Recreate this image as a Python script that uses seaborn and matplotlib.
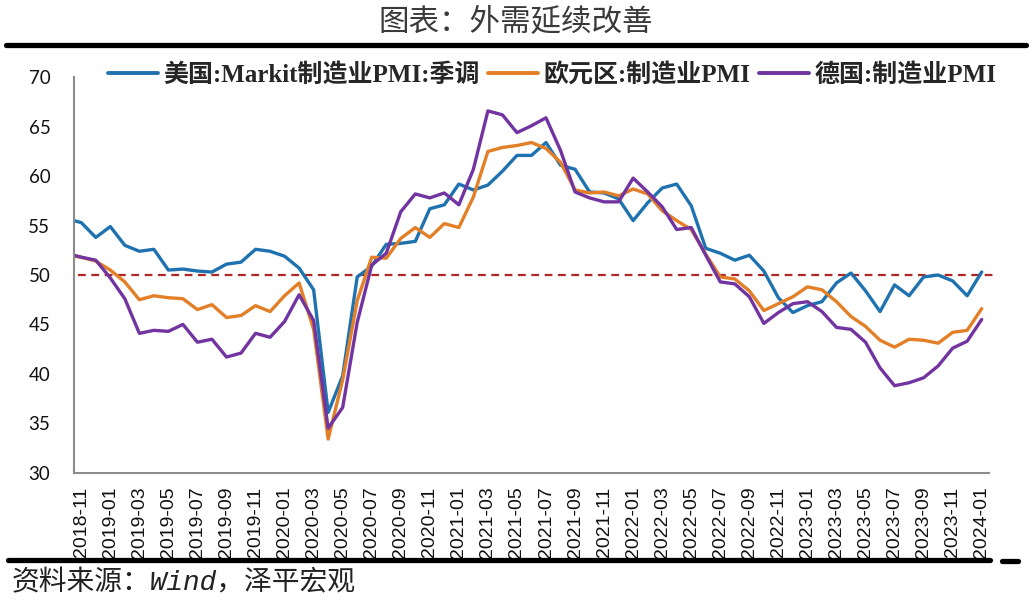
import matplotlib
matplotlib.use('Agg')
import matplotlib.pyplot as plt
from matplotlib.lines import Line2D
import numpy as np
import pandas as pd
import seaborn as sns

# 月度数据 2018-10 ~ 2024-01（2018-10 只用于左端延伸，被坐标轴裁掉）
months = pd.period_range('2018-10', '2024-01', freq='M').strftime('%Y-%m').tolist()

us_pmi = [55.7, 55.3, 53.8,
          54.9, 53.0, 52.4, 52.6, 50.5, 50.6, 50.4, 50.3, 51.1, 51.3, 52.6, 52.4,
          51.9, 50.7, 48.5, 36.1, 39.8, 49.8, 50.9, 53.1, 53.2, 53.4, 56.7, 57.1,
          59.2, 58.6, 59.1, 60.5, 62.1, 62.1, 63.4, 61.1, 60.7, 58.4, 58.3, 57.7,
          55.5, 57.3, 58.8, 59.2, 57.0, 52.7, 52.2, 51.5, 52.0, 50.4, 47.7, 46.2,
          46.9, 47.3, 49.2, 50.2, 48.4, 46.3, 49.0, 47.9, 49.8, 50.0, 49.4, 47.9,
          50.3]
ez_pmi = [52.0, 51.8, 51.4,
          50.5, 49.3, 47.5, 47.9, 47.7, 47.6, 46.5, 47.0, 45.7, 45.9, 46.9, 46.3,
          47.9, 49.2, 44.5, 33.4, 39.4, 47.4, 51.8, 51.7, 53.7, 54.8, 53.8, 55.2,
          54.8, 57.9, 62.5, 62.9, 63.1, 63.4, 62.8, 61.4, 58.6, 58.3, 58.4, 58.0,
          58.7, 58.2, 56.5, 55.5, 54.6, 52.1, 49.8, 49.6, 48.4, 46.4, 47.1, 47.8,
          48.8, 48.5, 47.3, 45.8, 44.8, 43.4, 42.7, 43.5, 43.4, 43.1, 44.2, 44.4,
          46.6]
de_pmi = [52.2, 51.8, 51.5,
          49.7, 47.6, 44.1, 44.4, 44.3, 45.0, 43.2, 43.5, 41.7, 42.1, 44.1, 43.7,
          45.3, 48.0, 45.4, 34.5, 36.6, 45.2, 51.0, 52.2, 56.4, 58.2, 57.8, 58.3,
          57.1, 60.7, 66.6, 66.2, 64.4, 65.1, 65.9, 62.6, 58.4, 57.8, 57.4, 57.4,
          59.8, 58.4, 56.9, 54.6, 54.8, 52.0, 49.3, 49.1, 47.8, 45.1, 46.2, 47.1,
          47.3, 46.3, 44.7, 44.5, 43.2, 40.6, 38.8, 39.1, 39.6, 40.8, 42.6, 43.3,
          45.5]

names = ['美国:Markit制造业PMI:季调', '欧元区:制造业PMI', '德国:制造业PMI']
colors = ['#1f72b0', '#e27f27', '#7134a0']
threshold = 50

pos = np.arange(len(months)) - 1  # 2018-11 -> 0
df = pd.concat([
    pd.DataFrame({'x': pos, 'value': vals, 'series': nm})
    for nm, vals in zip(names, [us_pmi, ez_pmi, de_pmi])
])

sns.set_style('white')
plt.rcParams['font.family'] = ['Noto Sans CJK SC', 'DejaVu Sans']

fig = plt.figure(figsize=(10.32, 6.03), dpi=100)
ax = fig.add_axes([0.0717, 0.2161, 0.8866, 0.6557])

sns.lineplot(data=df, x='x', y='value', hue='series', hue_order=names,
             palette=colors, linewidth=2.4, ax=ax, legend=False)
for ln in ax.lines:
    ln.set_solid_joinstyle('round')
    ln.set_solid_capstyle('round')

# 50 荣枯线
ax.axhline(threshold, xmin=0.004, xmax=1.01, color='#b02525', lw=1.6,
           dashes=(3.5, 2.5), clip_on=False, zorder=1)

ax.set_xlim(-0.5, 62.5)
ax.set_ylim(30, 70)
ax.set_xlabel('')
ax.set_ylabel('')

# x 轴
ax.set_xticks(pos[1::2])
ax.set_xticklabels(months[1::2], rotation=90, fontsize=14,
                   family='Liberation Sans', color='#111111')
ax.set_xticks(np.arange(-0.5, 62, 2), minor=True)
ax.tick_params(axis='x', which='major', length=0, pad=10)
ax.tick_params(axis='x', which='minor', length=5, width=1.2,
               color='#8c8c8c', direction='out')

# y 轴
ax.set_yticks(np.arange(30, 71, 5))
ax.tick_params(axis='y', length=5, width=1.2, color='#8c8c8c',
               direction='out', pad=12, labelsize=13.5)
for lb in ax.get_yticklabels():
    lb.set_family('Lato')
    lb.set_color('#111111')

for s in ['top', 'right']:
    ax.spines[s].set_visible(False)
for s in ['left', 'bottom']:
    ax.spines[s].set_color('#8c8c8c')
    ax.spines[s].set_linewidth(1.5)

# 图例
handles = [Line2D([], [], color=c, lw=2.8) for c in colors]
fig.legend(handles, names, loc='center', bbox_to_anchor=(0.535, 0.876),
           ncol=3, frameon=False, handlelength=2.0, handletextpad=0.2,
           columnspacing=0.35,
           prop={'family': ['Liberation Serif', 'Noto Sans CJK SC'],
                 'weight': 'bold', 'size': 18})

# 标题、横线、资料来源
fig.text(0.5, 1 - 22 / 603, '图表：外需延续改善', ha='center', va='center',
         fontsize=22, color='#3a3a3a', weight='light')
fig.add_artist(Line2D([0.006, 0.994], [1 - 45 / 603] * 2, color='black', lw=3.8))
fig.add_artist(Line2D([0.008, 0.959], [1 - 560 / 603] * 2, color='black', lw=3.8))
fig.add_artist(Line2D([0.971, 0.986], [1 - 561 / 603] * 2, color='black', lw=3.8))
fig.text(12 / 1032, 1 - 583 / 603, '资料来源：Wind，泽平宏观', ha='left', va='center',
         fontsize=20, color='#222222', style='italic',
         family=['Liberation Mono', 'Noto Sans CJK SC'])

fig.savefig('out.png', dpi=100)
